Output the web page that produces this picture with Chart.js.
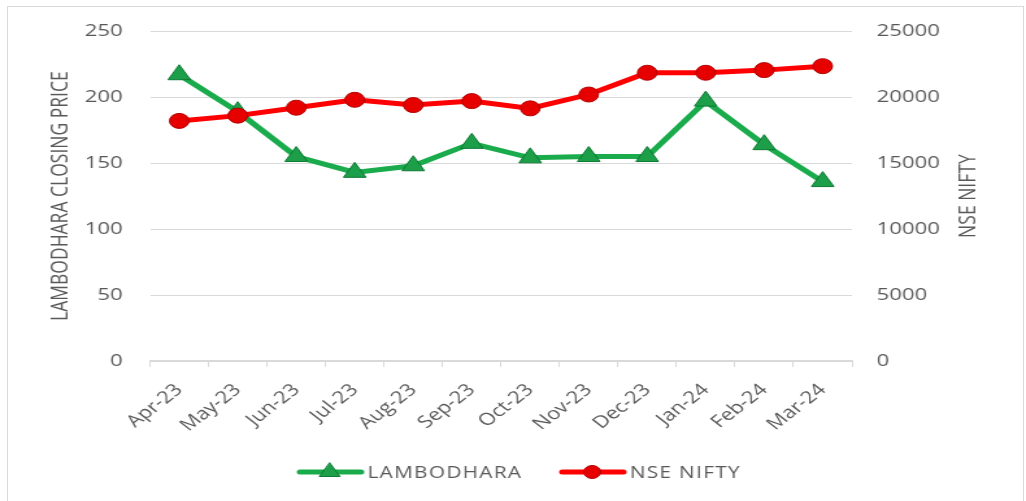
<!DOCTYPE html>
<html>
<head>
<meta charset="utf-8">
<script src="https://cdn.jsdelivr.net/npm/chart.js@4.4.1/dist/chart.umd.min.js"></script>
<style>
body{margin:0;background:#fff;overflow:hidden}
#frame{position:absolute;left:7px;top:6px;width:1015px;height:520px;border:1px solid #d9d9d9}
#wrap{position:absolute;left:0;top:0;width:790px;height:501px;transform:scaleX(1.2987);transform-origin:0 0}
</style>
</head>
<body>
<div id="frame"></div>
<div id="wrap"><canvas id="priceChart"></canvas></div>
<script>
const months=['Apr-23','May-23','Jun-23','Jul-23','Aug-23','Sep-23','Oct-23','Nov-23','Dec-23','Jan-24','Feb-24','Mar-24'];
const lambodhara=[217,189,155,143,148,165,154,155,155,197,164,136];
const nifty=[18200,18600,19200,19800,19400,19700,19150,20200,21850,21850,22050,22350];
const leftTicks=[0,50,100,150,200,250];
const rightTicks=[0,5000,10000,15000,20000,25000];
const leftTitle='LAMBODHARA CLOSING PRICE';
const rightTitle='NSE NIFTY';

const grey='#595959';
const tickFont={family:'Open Sans',size:17};

// titles and legend drawn by hand to get the Excel look
const extras={
  id:'extras',
  afterDraw(chart){
    const ctx=chart.ctx;
    const a=chart.chartArea;
    const midY=(a.top+a.bottom)/2;
    [[47,leftTitle],[746,rightTitle]].forEach(([tx,txt])=>{
      ctx.save();
      ctx.fillStyle=grey;
      ctx.font='17.5px "Open Sans"';
      ctx.textAlign='center';
      ctx.textBaseline='middle';
      ctx.translate(tx,midY);
      ctx.rotate(-Math.PI/2);
      ctx.fillText(txt,0,0);
      ctx.restore();
    });

    // legend
    const ly=472;
    const items=[
      {x:229,label:'LAMBODHARA',color:'#1aab4c',fill:'#1d9e48',edge:'#0e7a34',shape:'tri'},
      {x:431,label:'NSE NIFTY',color:'#ff0000',fill:'#e60000',edge:'#b00000',shape:'dot'}
    ];
    items.forEach(it=>{
      ctx.save();
      ctx.strokeStyle=it.color;
      ctx.lineWidth=5;
      ctx.lineCap='round';
      ctx.beginPath();
      ctx.moveTo(it.x+2,ly);
      ctx.lineTo(it.x+49,ly);
      ctx.stroke();
      ctx.fillStyle=it.fill;
      ctx.strokeStyle=it.edge;
      ctx.lineWidth=1;
      const cx=it.x+25;
      ctx.beginPath();
      if(it.shape==='tri'){
        const r=9;
        ctx.moveTo(cx,ly-r);
        ctx.lineTo(cx+r*0.866,ly+r/2);
        ctx.lineTo(cx-r*0.866,ly+r/2);
        ctx.closePath();
      }else{
        ctx.arc(cx,ly,6.5,0,Math.PI*2);
      }
      ctx.fill();
      ctx.stroke();
      ctx.fillStyle=grey;
      ctx.font='16px "Open Sans"';
      ctx.letterSpacing='1px';
      ctx.textAlign='left';
      ctx.textBaseline='middle';
      ctx.fillText(it.label,it.x+54,ly+1);
      ctx.restore();
    });
  }
};

new Chart(document.getElementById('priceChart'),{
  type:'line',
  data:{
    labels:months,
    datasets:[
      {
        label:'LAMBODHARA',
        data:lambodhara,
        yAxisID:'y',
        borderColor:'#1aab4c',
        borderWidth:5,
        pointStyle:'triangle',
        pointRadius:10,
        pointHoverRadius:10,
        pointBackgroundColor:'#1d9e48',
        pointBorderColor:'#0e7a34',
        pointBorderWidth:1,
        tension:0,
        order:2
      },
      {
        label:'NSE NIFTY',
        data:nifty,
        yAxisID:'y1',
        borderColor:'#ff0000',
        borderWidth:5,
        pointStyle:'circle',
        pointRadius:7.5,
        pointHoverRadius:7.5,
        pointBackgroundColor:'#e60000',
        pointBorderColor:'#b00000',
        pointBorderWidth:1,
        tension:0,
        order:1
      }
    ]
  },
  options:{
    responsive:true,
    maintainAspectRatio:false,
    animation:false,
    layout:{padding:{top:31,left:0,right:0,bottom:0}},
    plugins:{legend:{display:false},tooltip:{enabled:false}},
    scales:{
      x:{
        offset:true,
        grid:{offset:true,drawOnChartArea:false,drawTicks:true,tickLength:6,color:'#d9d9d9'},
        border:{color:'#d9d9d9',width:2},
        ticks:{color:grey,font:tickFont,maxRotation:45,minRotation:45,padding:13,autoSkip:false},
        afterFit:s=>{s.height=140;}
      },
      y:{
        position:'left',
        min:0,max:250,
        afterBuildTicks:s=>{s.ticks=leftTicks.map(v=>({value:v}));},
        grid:{color:'#d9d9d9',drawTicks:false},
        border:{display:false},
        ticks:{color:grey,font:tickFont,padding:21,callback:v=>String(v)},
        afterFit:s=>{s.width=115.5;}
      },
      y1:{
        position:'right',
        min:0,max:25000,
        afterBuildTicks:s=>{s.ticks=rightTicks.map(v=>({value:v}));},
        grid:{drawOnChartArea:false,drawTicks:false},
        border:{display:false},
        ticks:{color:grey,font:tickFont,padding:19,callback:v=>String(v)},
        afterFit:s=>{s.width=134;}
      }
    }
  },
  plugins:[extras]
});
</script>
</body>
</html>
